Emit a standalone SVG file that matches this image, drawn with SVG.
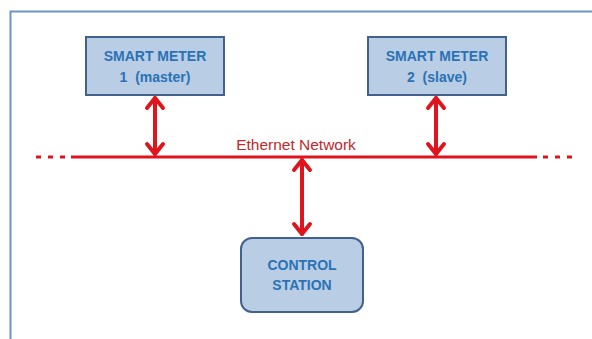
<svg xmlns="http://www.w3.org/2000/svg" width="592" height="339" viewBox="0 0 592 339">
<defs>
<style>
.box{fill:#b9cde5;stroke:#41628c;stroke-width:2}
.lbl{font-family:"Liberation Sans",Arial,sans-serif;font-weight:bold;font-size:14px;fill:#2a72b5;text-anchor:middle}
.net{font-family:"Liberation Sans",Arial,sans-serif;font-size:15.5px;fill:#c0282a;text-anchor:middle}
.arr{stroke:#e0141c;stroke-width:4;fill:none;stroke-linecap:round;stroke-linejoin:round}
.bus{stroke:#e0141c;stroke-width:3;fill:none}
</style>
<marker id="ah" viewBox="-6 -6 12 12" markerWidth="12" markerHeight="12" markerUnits="userSpaceOnUse" refX="0" refY="0" orient="auto-start-reverse" overflow="visible">
<path d="M-10,-8 L0,0 L-10,8" stroke="#e0141c" stroke-width="4" fill="none" stroke-linecap="round" stroke-linejoin="round"/>
</marker>
</defs>
<rect x="0" y="0" width="592" height="339" fill="#ffffff"/>
<path d="M10.5,345 V11.5 H600" fill="none" stroke="#6f93c8" stroke-width="2"/>
<g id="connectors">
<line class="bus" x1="71" y1="157" x2="537" y2="157"/>
<line class="bus" x1="36" y1="157" x2="71" y2="157" stroke-dasharray="5,7"/>
<line class="bus" x1="543" y1="157" x2="575" y2="157" stroke-dasharray="5,7"/>
<line class="arr" x1="155" y1="98" x2="155" y2="154" marker-start="url(#ah)" marker-end="url(#ah)"/>
<line class="arr" x1="436" y1="98" x2="436" y2="154" marker-start="url(#ah)" marker-end="url(#ah)"/>
<line class="arr" x1="302" y1="160" x2="302" y2="234" marker-start="url(#ah)" marker-end="url(#ah)"/>
<text class="net" x="296" y="150">Ethernet Network</text>
</g>
<g id="meter1">
<rect class="box" x="86" y="37" width="138" height="58"/>
<text class="lbl" x="155" y="61">SMART METER</text>
<text class="lbl" x="155" y="82">1 &#160;(master)</text>
</g>
<g id="meter2">
<rect class="box" x="368" y="37" width="138" height="58"/>
<text class="lbl" x="437" y="61">SMART METER</text>
<text class="lbl" x="437" y="82">2 &#160;(slave)</text>
</g>
<g id="control">
<rect class="box" x="241" y="238" width="122" height="74" rx="11" ry="11"/>
<text class="lbl" x="302" y="270">CONTROL</text>
<text class="lbl" x="302" y="290">STATION</text>
</g>
</svg>
